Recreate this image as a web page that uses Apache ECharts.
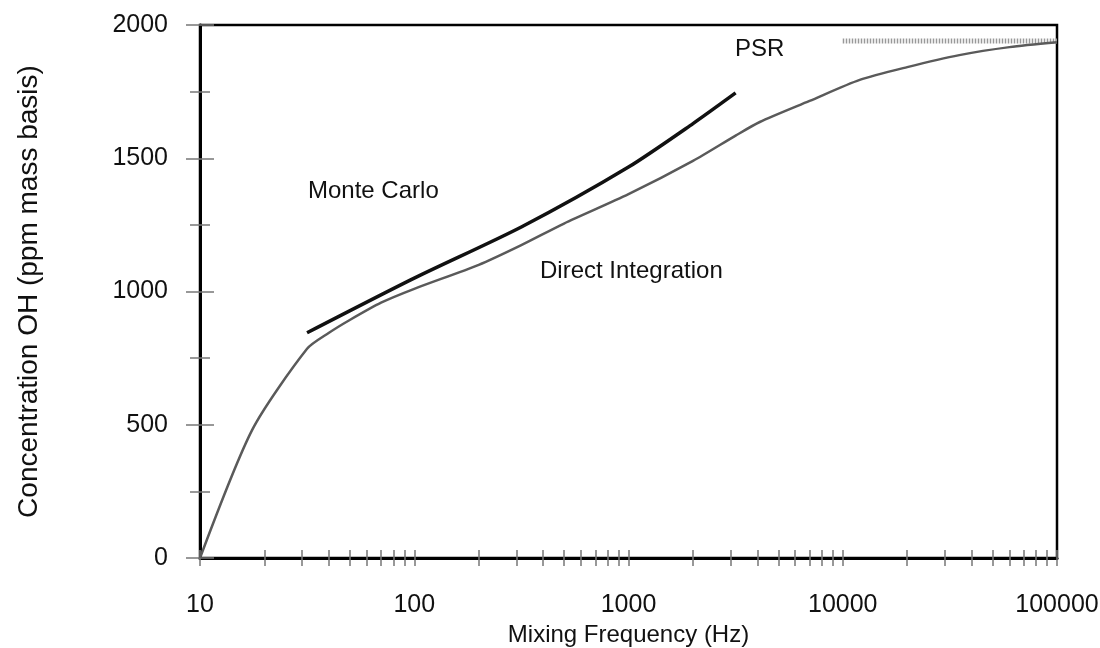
<!DOCTYPE html>
<html>
<head>
<meta charset="utf-8">
<script src="https://cdn.jsdelivr.net/npm/echarts@6/dist/echarts.min.js"></script>
<style>
  html, body { margin: 0; padding: 0; background: #fff; }
  #chart { width: 1100px; height: 648px; }
</style>
</head>
<body>
<div id="chart"></div>
<script>
// OH concentration vs. mixing frequency: Monte Carlo, direct integration, PSR limit
const directIntegration = [
  [10, 0], [17.5, 480], [31.6, 785], [40, 845], [50, 893], [70, 958],
  [100, 1010], [200, 1100], [316, 1174], [500, 1255], [1000, 1365],
  [2000, 1490], [3162, 1585], [4100, 1636], [7000, 1715], [12000, 1794],
  [20000, 1842], [35000, 1887], [60000, 1917], [100000, 1935]
];
const monteCarlo = [
  [31.6, 845], [100, 1050], [316, 1242], [1000, 1467],
  [2000, 1630], [3162, 1745]
];
const psr = [[10000, 1940], [100000, 1940]];

const xMajorTicks = [10, 100, 1000, 10000, 100000];
const xMinorFactors = [2, 3, 4, 5, 6, 7, 8, 9];
const yTicks = [0, 500, 1000, 1500, 2000];

const xTickValues = [];
xMajorTicks.forEach(function (d, i) {
  xTickValues.push(d);
  if (i < xMajorTicks.length - 1) {
    xMinorFactors.forEach(function (f) { xTickValues.push(d * f); });
  }
});

const FONT = 'Liberation Sans, Arial, Helvetica, sans-serif';
const tickStyle = { color: '#777', width: 1.5 };

function xAxisCfg(inside, withLabels) {
  return {
    type: 'log', logBase: 10, min: 10, max: 100000, position: 'bottom',
    axisLine: { show: withLabels, lineStyle: { color: '#000', width: 3 } },
    axisTick: { show: true, inside: inside, length: 8, lineStyle: tickStyle, customValues: xTickValues },
    minorTick: { show: false },
    axisLabel: withLabels ? {
      show: true, customValues: xMajorTicks, margin: 35, fontSize: 25, color: '#111', fontFamily: FONT,
      formatter: function (v) { return String(Math.round(v)); }
    } : { show: false },
    splitLine: { show: false },
    name: withLabels ? 'Mixing Frequency (Hz)' : '',
    nameLocation: 'middle', nameGap: 65,
    nameTextStyle: { fontSize: 24, color: '#111', fontFamily: FONT }
  };
}

function yAxisCfg(inside, withLabels) {
  return {
    type: 'value', min: 0, max: 2000, interval: 500, position: 'left',
    axisLine: { show: withLabels, lineStyle: { color: '#000', width: 3 } },
    axisTick: { show: true, inside: inside, length: 14, lineStyle: tickStyle },
    minorTick: { show: true, splitNumber: 2, length: 10, lineStyle: tickStyle },
    axisLabel: withLabels ? {
      show: true, margin: 32, fontSize: 25, color: '#111', fontFamily: FONT,
      formatter: function (v) { return yTicks.indexOf(v) >= 0 ? String(v) : ''; }
    } : { show: false },
    splitLine: { show: false },
    name: withLabels ? 'Concentration OH (ppm mass basis)' : '',
    nameLocation: 'middle', nameGap: 157, nameRotate: 90,
    nameTextStyle: { fontSize: 28, color: '#111', fontFamily: FONT }
  };
}

const chart = echarts.init(document.getElementById('chart'), null, { renderer: 'canvas' });
chart.setOption({
  backgroundColor: '#fff',
  animation: false,
  grid: {
    left: 200, right: 43, top: 25, bottom: 90,
    outerBoundsMode: 'none', containLabel: false,
    show: true, borderColor: '#000', borderWidth: 2.5, backgroundColor: 'transparent'
  },
  xAxis: [xAxisCfg(true, true), xAxisCfg(false, false)],
  yAxis: [yAxisCfg(true, true), yAxisCfg(false, false)],
  series: [
    {
      name: 'Direct Integration', type: 'line', data: directIntegration,
      xAxisIndex: 0, yAxisIndex: 0, showSymbol: false, smooth: 0.25,
      lineStyle: { color: '#5a5a5a', width: 2.5 }, z: 3
    },
    {
      name: 'Monte Carlo', type: 'line', data: monteCarlo,
      xAxisIndex: 0, yAxisIndex: 0, showSymbol: false, smooth: 0.25,
      lineStyle: { color: '#111', width: 3.5 }, z: 4
    },
    {
      name: 'PSR', type: 'line', data: psr,
      xAxisIndex: 0, yAxisIndex: 0, showSymbol: false,
      lineStyle: { color: '#999', width: 5, type: [1.5, 1.5] }, z: 2
    }
  ],
  graphic: [
    { type: 'text', x: 308, y: 191, style: { text: 'Monte Carlo', fontSize: 24, fontFamily: FONT, fill: '#111', verticalAlign: 'middle' } },
    { type: 'text', x: 540, y: 271, style: { text: 'Direct Integration', fontSize: 24, fontFamily: FONT, fill: '#111', verticalAlign: 'middle' } },
    { type: 'text', x: 735, y: 49, style: { text: 'PSR', fontSize: 24, fontFamily: FONT, fill: '#111', verticalAlign: 'middle' } }
  ]
});
</script>
</body>
</html>
